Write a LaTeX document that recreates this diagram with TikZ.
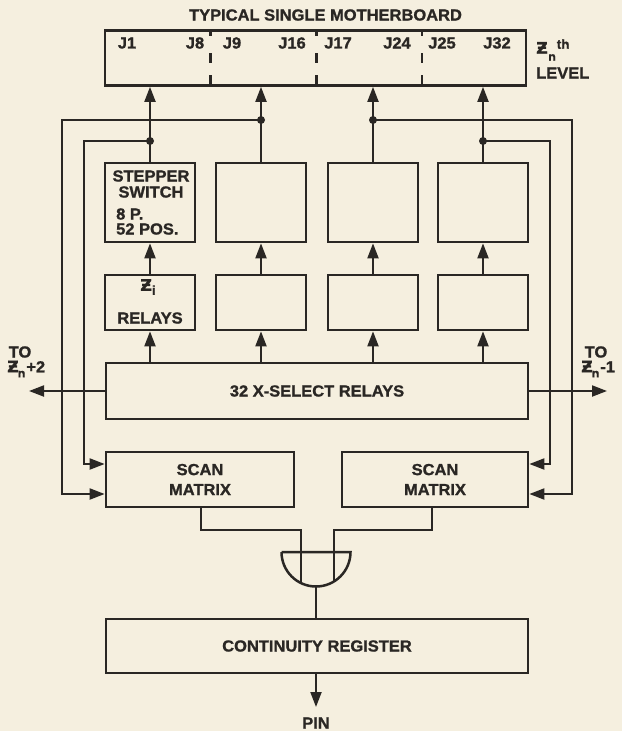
\documentclass[tikz,border=0pt]{standalone}
\usepackage{fontspec}
\setmainfont{Liberation Sans}[FakeStretch=1.03,BoldFeatures={FakeBold=1.2}]
\newfontfamily\zfont{DejaVu Sans}[BoldFeatures={FakeBold=1}]
\usetikzlibrary{arrows.meta,calc}
\definecolor{paper}{HTML}{F5EFDF}
\definecolor{ink}{HTML}{2A2724}
\newcommand\Zs{{\zfont\bfseries\fontsize{16}{16}\selectfont Ƶ}}
\newcommand\subn{\raisebox{-5pt}{\fontsize{12}{12}\selectfont n}}
\begin{document}
\begin{tikzpicture}[x=1pt,y=-1pt,
  box/.style={draw=ink,line width=2.7pt,inner sep=0pt},
  conn/.style={draw=ink,line width=2pt},
  arr/.style={conn,-{Triangle[length=15pt,width=11pt]}},
  txt/.style={text=ink,inner sep=0pt,font=\fontsize{16}{18}\selectfont\bfseries},
  dot/.style={circle,fill=ink,inner sep=0pt,minimum size=8pt}]
\fill[paper] (0,0) rectangle (622,731);
\useasboundingbox (0,0) rectangle (622,731);
% motherboard
\node[box,minimum width=421pt,minimum height=55pt] (mb) at (315.5,58) {};
\foreach \x in {210.7,316.7,422}{
  \draw[ink,line width=2.5pt] (\x,31) -- (\x,36) (\x,53) -- (\x,63) (\x,75) -- (\x,85);}
\node[txt] (title) at (325.5,15) {TYPICAL SINGLE MOTHERBOARD};
\node[txt] (j1) at (127,43) {J1};
\node[txt] (j8) at (195,43) {J8};
\node[txt] (j9) at (232,43) {J9};
\node[txt] (j16) at (292,43) {J16};
\node[txt] (j17) at (338,43) {J17};
\node[txt] (j24) at (397,43) {J24};
\node[txt] (j25) at (442,43) {J25};
\node[txt] (j32) at (497,43) {J32};
\node[txt,anchor=west] (lvz) at (536,50) {\Zs\kern0.5pt\raisebox{-7pt}{\fontsize{12}{12}\selectfont n}\kern1pt\raisebox{5pt}{\fontsize{13}{13}\selectfont th}};
\node[txt,anchor=west] (lvl) at (536,73) {LEVEL};
% columns
\foreach \i/\x in {1/150,2/261,3/373,4/483}{
  \node[box,minimum width=90pt,minimum height=79pt] (s\i) at (\x,202.5) {};
  \node[box,minimum width=90pt,minimum height=55pt] (r\i) at (\x,302.5) {};
}
\node[box,minimum width=422pt,minimum height=56pt] (xs) at (317,391) {};
\node[txt] at (xs) {32 X-SELECT RELAYS};
\foreach \i in {1,2,3,4}{
  \draw[arr] (s\i.north) -- (s\i.north |- mb.south);
  \draw[arr] (r\i.north) -- (s\i.south);
  \draw[arr] (r\i.south |- xs.north) -- (r\i.south);
}
% stepper text
\node[txt] (t1) at (151,176) {STEPPER};
\node[txt] (t2) at (151,192) {SWITCH};
\node[txt,anchor=west] (t3) at (116,214) {8 P.};
\node[txt,anchor=west] (t4) at (116,229) {52 POS.};
\node[txt] (t5) at (148,287) {\Zs\raisebox{-4pt}{\fontsize{13}{13}\selectfont i}};
\node[txt] (t6) at (150,318) {RELAYS};
% scan matrices
\node[box,minimum width=188pt,minimum height=55pt] (scL) at (200,479.5) {};
\node[box,minimum width=186pt,minimum height=55pt] (scR) at (435,479.5) {};
\node[txt,align=center] at (scL) {SCAN\\[2pt]MATRIX};
\node[txt,align=center] at (scR) {SCAN\\[2pt]MATRIX};
% feedback lines
\coordinate (yout) at (0,120);
\coordinate (yin) at (0,141);
\node[dot] (d1) at (s1.north |- yin) {};
\node[dot] (d2) at (s2.north |- yout) {};
\node[dot] (d3) at (s3.north |- yout) {};
\node[dot] (d4) at (s4.north |- yin) {};
\coordinate (scLa) at ($(scL.west)+(0,-15.5)$);
\coordinate (scLb) at ($(scL.west)+(0,14.5)$);
\coordinate (scRa) at ($(scR.east)+(0,-15.5)$);
\coordinate (scRb) at ($(scR.east)+(0,14.5)$);
\coordinate (xL1) at (62,0);
\coordinate (xL2) at (84,0);
\coordinate (xR1) at (572,0);
\coordinate (xR2) at (550,0);
\draw[arr] (d1.center) -- (d1 -| xL2) -- (xL2 |- scLa) -- (scLa);
\draw[arr] (d2.center) -- (d2 -| xL1) -- (xL1 |- scLb) -- (scLb);
\draw[arr] (d3.center) -- (d3 -| xR1) -- (xR1 |- scRb) -- (scRb);
\draw[arr] (d4.center) -- (d4 -| xR2) -- (xR2 |- scRa) -- (scRa);
% x-select outputs
\coordinate (outL) at (29,391);
\coordinate (outR) at (607,391);
\draw[arr] (xs.west) -- (outL);
\draw[arr] (xs.east) -- (outR);
\node[txt] (toL) at (20,352) {TO};
\node[txt,anchor=west] (znL) at (7,369) {\Zs\kern-1pt\subn\kern1pt+2};
\node[txt] (toR) at (596,352) {TO};
\node[txt,anchor=west] (znR) at (581,369) {\Zs\kern-1pt\subn\kern1pt-1};
% gate
\coordinate (gR) at (350.5,552);
\coordinate (gL) at (281.5,552);
\coordinate (gB) at (316,586.5);
\draw[ink,line width=2.5pt] (gL) -- (gR) arc[start angle=0,end angle=-180,radius=34.5pt];
\coordinate (jL) at (300.5,530);
\coordinate (jR) at (334,530);
\coordinate (gInL) at (300.5,583);
\coordinate (gInR) at (334,581.5);
\coordinate (scLo) at (200.5,0);
\coordinate (scRo) at (432,0);
\draw[conn] (scLo |- scL.south) -- (scLo |- jL) -- (jL) -- (gInL);
\draw[conn] (scRo |- scR.south) -- (scRo |- jR) -- (jR) -- (gInR);
% continuity register
\node[box,minimum width=422pt,minimum height=54pt] (cr) at (317,646) {};
\node[txt] at (cr) {CONTINUITY REGISTER};
\draw[conn] (gB) -- (gB |- cr.north);
\coordinate (pinT) at (316,707);
\draw[arr] (cr.south -| pinT) -- (pinT);
\node[txt] (pin) at (316,723) {PIN};
\end{tikzpicture}
\end{document}
